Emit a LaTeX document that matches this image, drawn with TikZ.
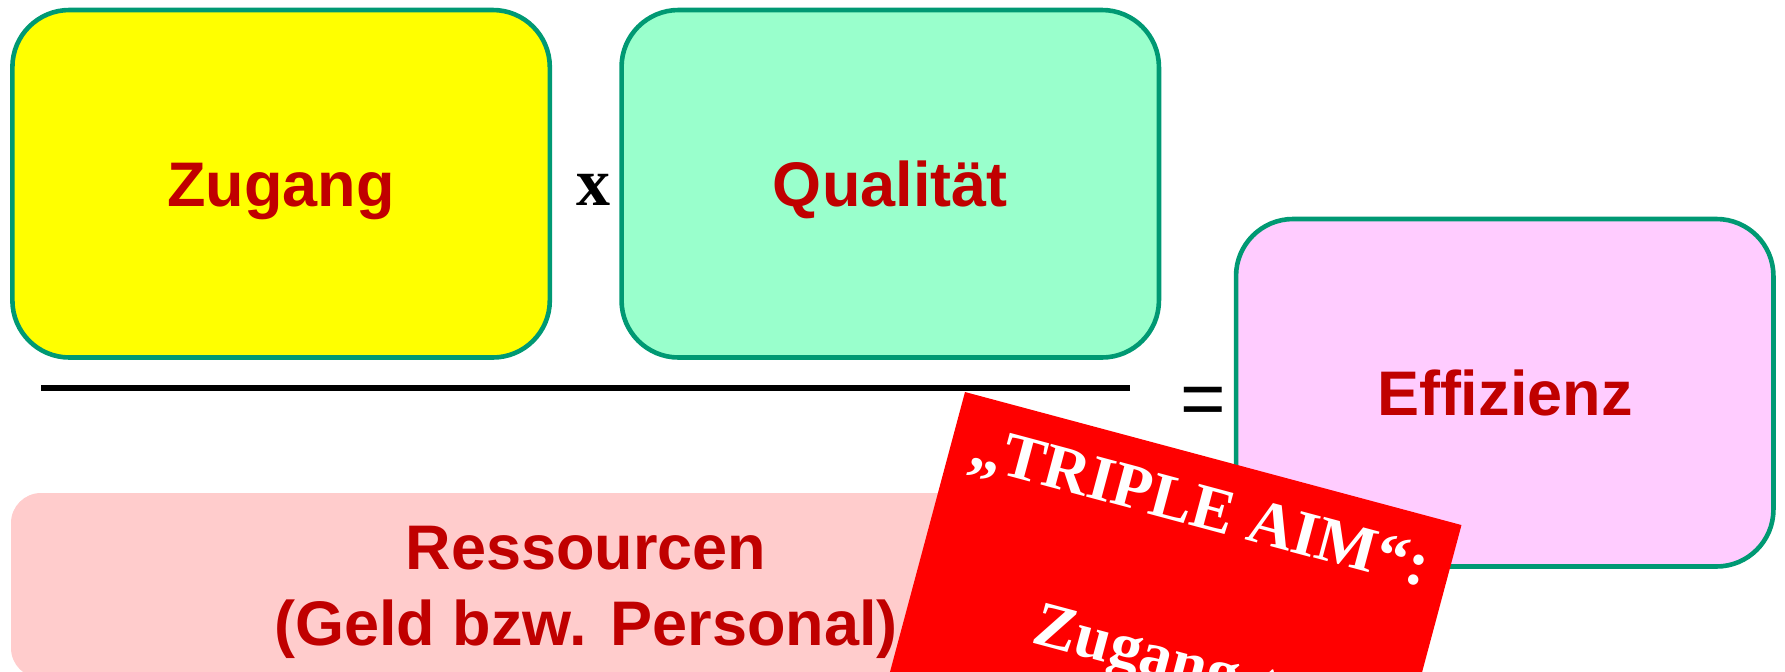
\documentclass[tikz,border=0pt]{standalone}
\usepackage{fontspec}
\setmainfont{Liberation Serif}
\newfontfamily\lsans[Ligatures=CommonOff]{Liberation Sans}
\newfontfamily\lserif{Liberation Serif}
\definecolor{boxgreen}{RGB}{0,153,115}
\definecolor{txtred}{RGB}{192,0,0}
\definecolor{zyellow}{RGB}{255,255,0}
\definecolor{qgreen}{RGB}{153,255,204}
\definecolor{epink}{RGB}{255,204,255}
\definecolor{rpink}{RGB}{255,204,204}
\definecolor{aimred}{RGB}{255,0,0}
\begin{document}
\begin{tikzpicture}[x=0.5pt,y=-0.5pt,
  factorbox/.style={draw=boxgreen,line width=2.3pt,rounded corners=28.5pt,
    minimum width=268.7pt,minimum height=173.75pt,inner sep=0pt,
    font=\lsans\bfseries\fontsize{31.5}{38}\selectfont,text=txtred,
    text height=22.5pt,text depth=0pt},
  ressbox/.style={fill=rpink,rounded corners=15pt,inner sep=0pt,
    minimum width=575pt,minimum height=92.5pt},
  resstext/.style={font=\lsans\bfseries\fontsize{31.5}{38}\selectfont,text=txtred,
    anchor=base,inner sep=0pt},
  optext/.style={anchor=base,inner sep=0pt},
  aimbox/.style={fill=aimred,minimum width=257pt,minimum height=200pt,
    anchor=north west,inner sep=0pt,outer sep=0pt},
  aimtext/.style={font=\lserif\bfseries\fontsize{32}{38}\selectfont,text=white,
    anchor=base,inner sep=0pt}]
\useasboundingbox (0,0) rectangle (1785,671);
\clip (0,0) rectangle (1785,671);

\node[factorbox,fill=zyellow] (zugang) at (281.1,183.75) {Zugang};
\node[factorbox,fill=qgreen] (qual) at (890.25,183.75) {Qualität};
\node[factorbox,fill=epink] (eff) at (1504.75,392.75) {Effizienz};

\node[ressbox] (ressbox) at (586,585.5) {};
\node[resstext] (ress1) at (586,569) {Ressourcen};
\node[resstext] (ress2) at (586,645) {(Geld bzw. Personal)};

\coordinate (frl) at (41,388);
\coordinate (frr) at (1130,388);
\draw[line width=2.85pt] (frl) -- (frr);

\node[optext,font=\lserif\bfseries\fontsize{34}{40}\selectfont] (times) at (593,205) {x};
\node[optext,font=\lsans\fontsize{39}{44}\selectfont] (eq) at (1203,425) {=};

\begin{scope}[shift={(965,392)},rotate=-15,transform shape]
  \node[aimbox] (aim) at (0,0) {};
  \node[aimtext] (aim1) at (257,70) {„TRIPLE AIM“:};
  \node[aimtext] (aim2) at (257,225) {Zugang ↑};
\end{scope}
\end{tikzpicture}
\end{document}
